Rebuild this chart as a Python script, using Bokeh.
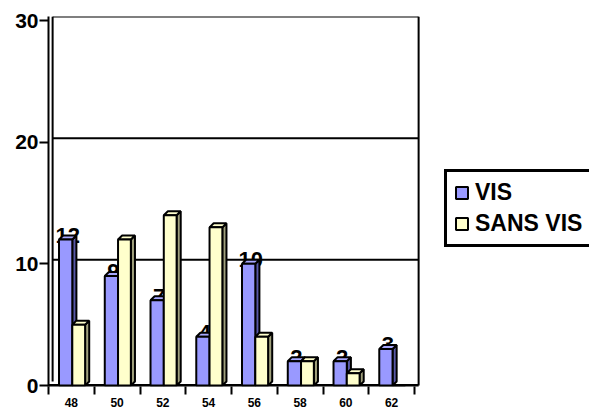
from bokeh.plotting import figure
from bokeh.models import FixedTicker, Legend, LegendItem
from bokeh.embed import file_html
from bokeh.resources import INLINE
from bokeh.core.properties import value

categories = ["48", "50", "52", "54", "56", "58", "60", "62"]
vis = [12, 9, 7, 4, 10, 2, 2, 3]
sans_vis = [5, 12, 14, 13, 4, 2, 1, 0]
y_ticks = [0, 10, 20, 30]

DX, DY = 0.09, 0.33
FONT = "Liberation Sans"
n = len(categories)
UNIT = 45.75  # px per category (frame spans chart + legend area)
XMAX = (589 - 48) / UNIT

p = figure(width=589, height=412, output_backend="svg", toolbar_location=None,
           x_range=(0, XMAX), y_range=(-0.082, 30.33),
           min_border_left=48, min_border_right=0, min_border_top=16,
           min_border_bottom=26)
p.outline_line_color = None
p.xgrid.visible = False
p.ygrid.visible = False
p.background_fill_color = "white"
p.border_fill_color = "white"

# back wall / grid (3D back plane)
gx0 = [DX for t in y_ticks[1:]]
gx1 = [n + DX for t in y_ticks[1:]]
gy = [t + DY for t in y_ticks[1:]]
p.segment(x0=gx0, y0=gy, x1=gx1, y1=gy, line_color="black", line_width=2)
p.segment(x0=[DX], y0=[DY], x1=[DX], y1=[y_ticks[-1] + DY], line_color="black", line_width=2)
p.segment(x0=[n + DX], y0=[0], x1=[n + DX], y1=[y_ticks[-1] + DY], line_color="black", line_width=2)
# floor front edge
p.segment(x0=[0], y0=[0], x1=[n + DX], y1=[0], line_color="black", line_width=3)

# value labels (drawn behind bars as in the reference)
lbl_x = [i + 0.375 + DX / 2 for i in range(n)]
lbl_y = [v + DY for v in vis]
p.text(x=lbl_x, y=lbl_y, text=[str(v) for v in vis], text_align="center",
       text_baseline="middle", text_font=value(FONT), text_font_style="bold",
       text_font_size="22px", text_color="black")


def faces(vals, off_l, off_r):
    sx, sy, tx, ty = [], [], [], []
    for i, v in enumerate(vals):
        if v <= 0:
            continue
        l, r = i + off_l, i + off_r
        sx.append([r, r + DX, r + DX, r])
        sy.append([0, DY, v + DY, v])
        tx.append([l, l + DX, r + DX, r])
        ty.append([v, v + DY, v + DY, v])
    return sx, sy, tx, ty


VIS_L, VIS_R = 0.23, 0.52
SV_L, SV_R = 0.52, 0.80

sx, sy, tx, ty = faces(vis, VIS_L, VIS_R)
p.patches(sx, sy, fill_color="#5858A8", line_color="black", line_width=2)
p.patches(tx, ty, fill_color="#A8A8FF", line_color="black", line_width=2)
sx, sy, tx, ty = faces(sans_vis, SV_L, SV_R)
p.patches(sx, sy, fill_color="#A0A07C", line_color="black", line_width=2)
p.patches(tx, ty, fill_color="#FFFFCC", line_color="black", line_width=2)

r_vis = p.quad(left=[i + VIS_L for i in range(n)], right=[i + VIS_R for i in range(n)],
               bottom=0, top=vis, fill_color="#9999FF", line_color="black", line_width=2)
r_sv = p.quad(left=[i + SV_L for i in range(n)], right=[i + SV_R for i in range(n)],
              bottom=0, top=sans_vis, fill_color="#FFFFCC", line_color="black", line_width=2)

# axes
ya = p.yaxis[0]
ya.ticker = FixedTicker(ticks=y_ticks)
ya.axis_line_color = "black"
ya.axis_line_width = 2
ya.major_tick_line_color = "black"
ya.major_tick_line_width = 2
ya.major_tick_out = 9
ya.major_tick_in = 0
ya.minor_tick_line_color = None
ya.major_label_standoff = 1
ya.major_label_text_font = FONT
ya.major_label_text_font_style = "bold"
ya.major_label_text_font_size = "21px"
ya.major_label_text_color = "black"

xa = p.xaxis[0]
centers = [i + 0.5 for i in range(n)]
xa.ticker = FixedTicker(ticks=centers, minor_ticks=list(range(n + 1)))
xa.major_label_overrides = {c: lab for c, lab in zip(centers, categories)}
xa.axis_line_color = None
xa.major_tick_line_color = None
xa.major_tick_out = 0
xa.major_tick_in = 0
xa.minor_tick_line_color = "black"
xa.minor_tick_line_width = 2
xa.minor_tick_out = 8
xa.minor_tick_in = 0
xa.major_label_standoff = 3
xa.major_label_text_font = FONT
xa.major_label_text_font_style = "bold"
xa.major_label_text_font_size = "12px"
xa.major_label_text_color = "black"

legend = Legend(items=[LegendItem(label="VIS", renderers=[r_vis]),
                       LegendItem(label="SANS VIS", renderers=[r_sv])],
                location=(396, 139))
legend.border_line_color = "black"
legend.border_line_alpha = 1
legend.border_line_width = 3
legend.background_fill_color = "white"
legend.background_fill_alpha = 1
legend.label_text_font = FONT
legend.label_text_font_style = "bold"
legend.label_text_font_size = "23px"
legend.label_text_color = "black"
legend.glyph_width = 15
legend.glyph_height = 15
legend.label_standoff = 6
legend.padding = 7
legend.spacing = 4
legend.margin = 0
p.add_layout(legend, "center")

open("out.html", "w").write(file_html(p, INLINE))
